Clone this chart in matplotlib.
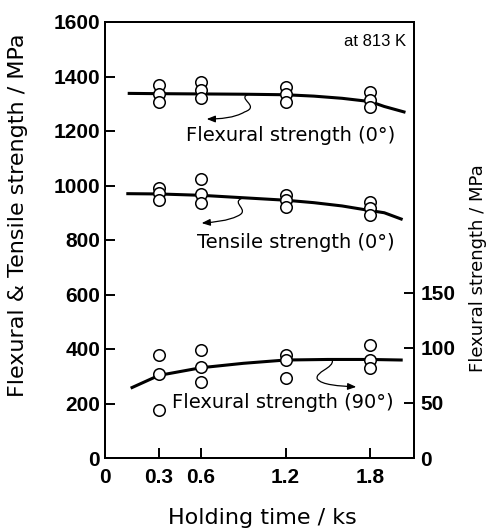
#!/bin/python3

"""
Flexural and tensile strength versus holding time at 813 K.
"""

import matplotlib
matplotlib.use("Agg")
import matplotlib.pyplot as plt
from matplotlib.patches import FancyArrowPatch
from matplotlib.path import Path

# Holding times of the measured specimens (ks)
HOLD_TIMES = [0.3, 0.6, 1.2, 1.8]

# Measured points, three specimens per holding time (MPa)
FLEX0 = [[1369, 1336, 1306], [1381, 1350, 1320], [1363, 1335, 1307], [1344, 1314, 1287]]
TENSILE0 = [[991, 972, 947], [1024, 969, 936], [965, 947, 921], [941, 916, 892]]
FLEX90 = [[93.6, 76, 43.6], [98, 83, 69], [93.6, 89, 72.7], [103, 89, 82]]

# Hand-drawn trend curves
FLEX0_CURVE_X = [0.09, 0.3, 0.6, 0.9, 1.2, 1.4, 1.6, 1.8, 1.9, 2.04]
FLEX0_CURVE_Y = [1338, 1337, 1336, 1335, 1333, 1328, 1320, 1308, 1290, 1270]
TENSILE0_CURVE_X = [0.08, 0.3, 0.6, 0.9, 1.2, 1.4, 1.6, 1.8, 1.9, 2.02]
TENSILE0_CURVE_Y = [970, 969, 964, 955, 946, 937, 925, 908, 900, 877]
FLEX90_CURVE_X = [0.11, 0.3, 0.6, 0.9, 1.2, 1.5, 1.8, 2.02]
FLEX90_CURVE_Y = [64, 75, 82, 86, 89, 89.5, 89.5, 89]

LEFT_TICKS = [0, 200, 400, 600, 800, 1000, 1200, 1400, 1600]
RIGHT_TICKS = [0, 50, 100, 150]

XLIM = (-0.082, 2.111)
YLIM = (0, 1600)
Y2LIM = (0, 396)

TICK_FONT = dict(family="Liberation Sans", weight="bold", size=15)
TEXT_FONT = dict(family="DejaVu Sans", size=14)
LINE_W = 2.2
SPINE_W = 1.4


def squiggle(ax, pts):
    """
    Draw a wavy arrow through bezier control points (move + two cubic segments).
    """
    codes = [Path.MOVETO] + [Path.CURVE4] * (len(pts) - 1)
    arrow = FancyArrowPatch(
        path=Path(pts, codes),
        arrowstyle="-|>,head_length=5,head_width=2",
        linewidth=0.9,
        color="black",
        transform=ax.transData,
        zorder=4,
    )
    ax.add_patch(arrow)


def scatter_groups(ax, groups):
    for t, vals in zip(HOLD_TIMES, groups):
        ax.plot(
            [t] * len(vals), vals,
            linestyle="none", marker="o", markersize=8.3,
            markerfacecolor="white", markeredgecolor="black",
            markeredgewidth=1.1, zorder=5, clip_on=False,
        )


def main() -> None:
    fig = plt.figure(figsize=(4.91, 5.32), dpi=100)
    ax = fig.add_axes([105 / 491, 1 - 458 / 532, (414 - 105) / 491, (458 - 22) / 532])
    ax2 = ax.twinx()

    # Curves
    ax.plot(FLEX0_CURVE_X, FLEX0_CURVE_Y, color="black", linewidth=LINE_W, zorder=3)
    ax.plot(TENSILE0_CURVE_X, TENSILE0_CURVE_Y, color="black", linewidth=LINE_W, zorder=3)
    ax2.plot(FLEX90_CURVE_X, FLEX90_CURVE_Y, color="black", linewidth=LINE_W, zorder=3)

    # Points
    scatter_groups(ax, FLEX0)
    scatter_groups(ax, TENSILE0)
    scatter_groups(ax2, FLEX90)

    ax.set_xlim(XLIM)
    ax.set_ylim(YLIM)
    ax2.set_ylim(Y2LIM)

    ax.set_xticks([XLIM[0]] + HOLD_TIMES, ["0"] + [str(t) for t in HOLD_TIMES])
    ax.set_yticks(LEFT_TICKS, [str(v) for v in LEFT_TICKS])
    ax2.set_yticks(RIGHT_TICKS, [str(v) for v in RIGHT_TICKS])

    for a in (ax, ax2):
        for sp in a.spines.values():
            sp.set_linewidth(SPINE_W)
        a.tick_params(direction="in", length=7, width=SPINE_W, top=False)
        for lbl in a.get_xticklabels() + a.get_yticklabels():
            lbl.set_fontproperties(TICK_FONT)
    ax.tick_params(axis="y", pad=3.5, right=False)
    ax.tick_params(axis="x", pad=7)
    ax2.tick_params(axis="y", pad=4.5)

    # Annotations
    ax.text(0.491, 1185, "Flexural strength (0°)", va="center", ha="left", **TEXT_FONT)
    ax.text(0.569, 789, "Tensile strength (0°)", va="center", ha="left", **TEXT_FONT)
    ax.text(0.392, 205, "Flexural strength (90°)", va="center", ha="left", **TEXT_FONT)
    ax.text(2.055, 1527, "at 813 K", va="center", ha="right",
            family="Liberation Sans", size=12)

    squiggle(ax, [(0.944, 1336), (0.838, 1321), (1.029, 1292), (0.909, 1270),
                  (0.838, 1248), (0.732, 1244), (0.64, 1244)])
    squiggle(ax, [(0.894, 954), (0.802, 936), (0.958, 910), (0.859, 888),
                  (0.788, 870), (0.696, 866), (0.604, 862)])
    squiggle(ax, [(1.531, 360), (1.546, 330), (1.404, 316), (1.425, 290),
                  (1.454, 268), (1.581, 264), (1.701, 261)])

    # Axis titles
    fig.text(262 / 491, 1 - 518 / 532, "Holding time / ks", ha="center", va="center",
             family="DejaVu Sans", size=16)
    fig.text(18 / 491, 1 - 215 / 532, "Flexural & Tensile strength / MPa",
             rotation=90, ha="center", va="center", family="DejaVu Sans", size=16)
    fig.text(478 / 491, 1 - 268 / 532, "Flexural strength / MPa",
             rotation=90, ha="center", va="center", family="DejaVu Sans", size=13)

    fig.savefig("out.png", dpi=100)


if __name__ == "__main__":
    main()
